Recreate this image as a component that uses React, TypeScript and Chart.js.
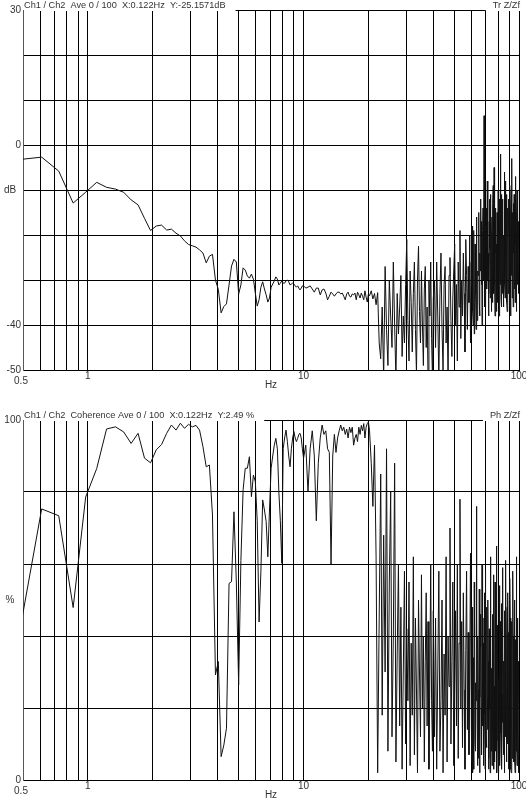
import React, { useEffect, useRef } from 'react';
import { Chart, registerables } from 'chart.js';

Chart.register(...registerables);

// Analyzer line spacing ("X:0.122Hz") and how the read-off values are sampled
const BIN_HZ = 0.1220703125;
const SEG_FIRST_BIN = [4, 84, 166, 332, 494];
const SEG_BIN_STEP = [1, 2, 3, 4, 2];

const X_GRID = [0.5, 0.6, 0.7, 0.8, 0.9, 1, 2, 3, 4, 5, 6, 7, 8, 9, 10, 20, 30, 40, 50, 60, 70, 80, 90, 100];
const X_LABELS = [1, 10, 100];
const X_START_LABEL = '0.5';
const X_TITLE = 'Hz';

const TR_TITLE = 'Ch1 / Ch2  Ave 0 / 100  X:0.122Hz  Y:-25.1571dB';
const TR_TAG = 'Tr Z/Zf';
const TR_Y_TITLE = 'dB';
const TR_Y_LABELS: [number, string][] = [[30, '30'], [0, '0'], [-40, '-40'], [-50, '-50']];

const COH_TITLE = 'Ch1 / Ch2  Coherence Ave 0 / 100  X:0.122Hz  Y:2.49 %';
const COH_TAG = 'Ph Z/Zf';
const COH_Y_TITLE = '%';
const COH_Y_LABELS: [number, string][] = [[100, '100'], [0, '0']];

// Transfer function (dB)
const trLow = [
  -3.2, -2.7, -5.8, -12.9, -10.5, -8.3, -9.4, -9.8, -10.5, -12.2,
  -13.3, -16.3, -19.0, -18.0, -17.8, -18.9, -18.7, -19.6, -20.2, -21.3,
  -22.1, -22.4, -22.7, -23.3, -24.0, -26.2, -24.7, -24.3, -30.0, -32.1,
  -37.3, -35.9, -35.3, -31.1, -26.9, -25.4, -26.0, -33.1, -31.1, -27.3,
  -27.8, -29.1, -29.6, -28.7, -29.8, -32.9, -35.8, -34.4, -31.6, -30.4,
  -32.0, -33.3, -34.9, -34.0, -31.6, -30.9, -30.2, -29.3, -29.8, -31.1,
  -30.7, -30.2, -30.7, -30.7, -30.2, -30.0, -30.4, -31.1, -30.9, -30.7,
  -30.9, -31.3, -31.6, -31.3, -31.8, -32.2, -31.8, -31.3, -31.3,
];
const trMid = [
  -31.8, -31.6, -31.3, -32.0, -32.7, -31.8, -31.8, -33.3, -32.2, -32.0,
  -32.9, -34.4, -33.6, -32.7, -33.1, -33.6, -33.1, -32.7, -32.7, -33.1,
  -32.9, -33.6, -34.4, -33.1, -32.7, -33.6, -33.8, -33.1, -33.3, -32.9,
  -34.4, -32.7, -33.3, -34.0, -32.9, -33.6, -34.4, -32.4, -33.8, -34.9,
  -33.1,
];
const trHigh1 = [
  -33.5, -32.4, -34.2, -33.0, -35.5, -32.8, -44.0, -47.5, -36.0, -52.0,
  -27.0, -41.0, -49.0, -30.0, -38.0, -45.0, -26.0, -40.0, -52.0, -33.0,
  -42.0, -36.0, -29.0, -47.0, -38.0, -44.0, -31.0, -21.0, -39.0, -48.0,
  -28.0, -35.0, -46.0, -33.0, -26.0, -41.0, -51.0, -30.0, -22.5, -37.0,
  -44.0, -28.0, -40.0, -49.0, -32.0, -27.0, -45.0, -36.0, -52.0, -30.0,
  -38.0, -26.0, -43.0, -52.0, -34.0,
];
const trHigh2 = [
  -30, -45, -26, -38, -52, -33, -24, -41, -50, -31,
  -27, -44, -36, -52, -29, -25, -39, -47, -34, -28,
  -22, -40, -31, -48, -26, -36, -19, -43, -30, -38,
  -24, -33, -46, -21, -29, -41, -27, -35, -20, -44,
  -26,
];
const trHigh3 = [
  -31, -18, -24, -37, -40, -30, -19, -42, -35, -22, -27, -33, -41, -16, -23, -39, -33, -28,
  -29, -20, -15, -35, -38, -24, -28, -12, -21, -31, -17, -40, -34, -19, -14, -27, -30, 6.5, -36, -22,
  -18, -33, -36, -14, -20, -25, -32, -8, -15, -30, -24, -38, -33, -17, -12, -23, -34, -11, -19, -29,
  -37, -20, -16, -35, -29, -13, -9, -26, -33, -5, -21, -31, -38, -18, -14, -24, -22, -37, -32, -15,
  -35, -22, -27, -10, -15, -30, -38, -19, -12, -27, -31, -2, -20, -34, -36, -16, -11, -24, -33, -12,
  -21, -28, -36, -20, -25, -6, -14, -31, -34, -17, -8, -25, -30, -11, -18, -35, -37, -21, -26, -14,
  -33, -26, -12, -18, -22, -33, -36, -9, -16, -23, -38, -15, -10, -29, -27, -3, -34, -20, -15, -27,
  -36, -13, -19, -24, -11, -32, -28, -17, -35, -7, -14, -22, -19, -30, -37, -16, -10, -25, -31, -19,
  -15, -28, -33, -21, -17, -24,
];

// Coherence (%)
const cohLow = [
  43, 75.3, 73.4, 47.9, 78.6, 86.5, 97.5, 98.1, 96.7, 93.5,
  96.3, 89.4, 88.1, 91.7, 93.2, 96.3, 98.6, 97.2, 99.1, 97.7,
  98.8, 98.1, 98.5, 97.2, 92.6, 87.0, 87.5, 73.6, 29.2, 32.9,
  6.5, 9.7, 14.4, 54.6, 55.1, 74.5, 55, 26.4, 61, 80.6,
  86.6, 86.6, 89.8, 78.7, 84.7, 82.9, 72, 43.9, 58, 77.8,
  75, 71.8, 62, 75, 86.6, 90, 93, 94.9, 92, 80,
  72, 60.2, 92.1, 95, 97.2, 94, 90, 87, 92, 95,
  96.8, 95, 94, 94.9, 96, 96.3, 95, 92, 89.4,
];
const cohMid = [
  93, 80, 92, 97, 90, 72, 88, 95, 98.6, 96,
  97, 92, 91, 60, 90, 96, 91, 95, 97, 98.6,
  97, 98, 96, 97.5, 95, 98, 96.5, 98, 93, 95,
  96, 94, 98, 96, 98.5, 97, 99, 95, 98, 99,
  99.5,
];
const cohHigh1 = [
  97, 88, 76, 93, 62, 2, 45, 85, 18, 68,
  30, 92, 8, 55, 80, 12, 40, 88, 5, 35,
  60, 15, 48, 3, 30, 58, 10, 42, 22, 55,
  4, 38, 18, 62, 7, 45, 25, 2, 50, 30,
  12, 57, 20, 40, 5, 33, 52, 15, 44, 3,
  28, 60, 22, 8, 47,
];
const cohHigh2 = [
  12, 45, 3, 30, 58, 8, 22, 50, 2, 35,
  18, 62, 5, 40, 26, 70, 10, 33, 55, 4,
  28, 47, 15, 60, 6, 38, 78, 20, 44, 9,
  52, 25, 3, 36, 58, 14, 41, 7, 30, 63,
  19,
];
const cohHigh3 = [
  5, 48, 30, 2, 14, 34, 3, 55, 40, 11, 8, 27, 22, 76, 45, 16, 4, 40,
  25, 6, 12, 53, 2, 23, 46, 37, 20, 9, 7, 60, 15, 29, 38, 4, 10, 45, 52, 18,
  3, 58, 29, 12, 9, 35, 48, 24, 14, 50, 33, 3, 6, 42, 25, 20, 2, 62, 37, 8,
  15, 31, 4, 46, 42, 14, 10, 57, 3, 26, 21, 5, 55, 39, 8, 22, 30, 65, 2, 11,
  18, 43, 35, 2, 7, 28, 23, 54, 4, 17, 44, 36, 13, 7, 28, 49, 3, 24, 16, 59,
  36, 13, 7, 33, 24, 4, 2, 47, 39, 21, 12, 61, 26, 9, 5, 38, 48, 27, 10, 52,
  31, 6, 3, 41, 25, 18, 9, 56, 45, 30, 16, 3, 2, 44, 34, 15, 6, 35, 21, 58,
  40, 10, 5, 26, 17, 50, 33, 5, 2, 39, 27, 19, 8, 62, 44, 12, 4, 31, 23, 45,
  14, 8, 2, 33, 28, 20,
];

const FONT = '"Liberation Sans", Arial, sans-serif';
const TEXT = '#333';
const LINE = '#111';
const RED = '#c8262c';
const GRID = '#000';

function buildPoints(segments: number[][]) {
  const pts: { x: number; y: number }[] = [];
  segments.forEach((vals, s) => {
    vals.forEach((v, i) => {
      pts.push({ x: (SEG_FIRST_BIN[s] + i * SEG_BIN_STEP[s]) * BIN_HZ, y: v });
    });
  });
  return pts;
}

type Spec = {
  title: string;
  tag: string;
  yTitle: string;
  yLabels: [number, string][];
  yMin: number;
  yMax: number;
  yStep: number;
  xAxisH: number;
  segments: number[][];
};

function textLayer(spec: Spec) {
  return {
    id: 'textLayer',
    afterDraw(chart: any) {
      const { ctx, chartArea: a, scales } = chart;
      const xs = scales.x;
      const ys = scales.y;
      ctx.save();
      ctx.fillStyle = TEXT;
      ctx.font = `10px ${FONT}`;
      ctx.textBaseline = 'middle';
      ctx.textAlign = 'right';
      spec.yLabels.forEach(([v, t]) => ctx.fillText(t, a.left - 2, ys.getPixelForValue(v)));
      ctx.textAlign = 'center';
      ctx.fillText(spec.yTitle, 10, (a.top + a.bottom) / 2);
      X_LABELS.forEach((v) => ctx.fillText(String(v), xs.getPixelForValue(v), a.bottom + 6));
      ctx.fillText(X_START_LABEL, xs.getPixelForValue(0.5) - 2, a.bottom + 11);
      ctx.fillText(X_TITLE, (a.left + a.right) / 2, a.bottom + 15);

      ctx.font = `9.2px ${FONT}`;
      const tw = ctx.measureText(spec.title).width;
      const rw = ctx.measureText(spec.tag).width;
      ctx.fillStyle = '#fff';
      ctx.fillRect(a.left + 1, 0, tw + 10, a.top + 1);
      ctx.fillRect(a.right - rw - 6, 0, rw + 12, a.top + 1);
      ctx.fillStyle = TEXT;
      ctx.textAlign = 'left';
      ctx.fillText(spec.title, a.left + 1, a.top - 5);
      ctx.textAlign = 'right';
      ctx.fillText(spec.tag, a.right + 1, a.top - 5);
      ctx.restore();
    },
  };
}

function makeChart(canvas: HTMLCanvasElement, spec: Spec) {
  return new Chart(canvas, {
    type: 'line',
    data: {
      datasets: [
        {
          data: buildPoints(spec.segments),
          borderColor: LINE,
          borderWidth: 1,
          pointRadius: 0,
          fill: false,
          tension: 0,
          clip: 0,
        } as any,
      ],
    },
    options: {
      responsive: false,
      animation: false,
      events: [],
      layout: { padding: { left: 0, right: 7, top: 10, bottom: 0 } },
      plugins: { legend: { display: false }, tooltip: { enabled: false } },
      scales: {
        x: {
          type: 'logarithmic',
          min: 0.5,
          max: 100,
          afterBuildTicks: (s: any) => {
            s.ticks = X_GRID.map((v) => ({ value: v }));
          },
          afterFit: (s: any) => {
            s.height = spec.xAxisH;
          },
          ticks: { display: false },
          grid: {
            color: (c: any) => (c.tick && c.tick.value === 0.5 ? RED : GRID),
            lineWidth: 1,
            drawTicks: false,
          },
          border: { color: GRID, width: 1 },
        },
        y: {
          type: 'linear',
          min: spec.yMin,
          max: spec.yMax,
          ticks: { display: false, stepSize: spec.yStep },
          afterFit: (s: any) => {
            s.width = 23;
          },
          grid: { color: GRID, lineWidth: 1, drawTicks: false },
          border: { color: RED, width: 1 },
        },
      },
    } as any,
    plugins: [textLayer(spec)],
  });
}

export default function App() {
  const topRef = useRef<HTMLCanvasElement>(null);
  const botRef = useRef<HTMLCanvasElement>(null);

  useEffect(() => {
    const c1 = makeChart(topRef.current!, {
      title: TR_TITLE,
      tag: TR_TAG,
      yTitle: TR_Y_TITLE,
      yLabels: TR_Y_LABELS,
      yMin: -50,
      yMax: 30,
      yStep: 10,
      xAxisH: 30,
      segments: [trLow, trMid, trHigh1, trHigh2, trHigh3],
    });
    const c2 = makeChart(botRef.current!, {
      title: COH_TITLE,
      tag: COH_TAG,
      yTitle: COH_Y_TITLE,
      yLabels: COH_Y_LABELS,
      yMin: 0,
      yMax: 100,
      yStep: 20,
      xAxisH: 23,
      segments: [cohLow, cohMid, cohHigh1, cohHigh2, cohHigh3],
    });
    return () => {
      c1.destroy();
      c2.destroy();
    };
  }, []);

  return (
    <div style={{ position: 'absolute', left: 0, top: 0, width: 526, height: 803, background: '#fff' }}>
      <canvas ref={topRef} width={526} height={400} style={{ position: 'absolute', left: 0, top: 0 }} />
      <canvas ref={botRef} width={526} height={393} style={{ position: 'absolute', left: 0, top: 410 }} />
    </div>
  );
}
